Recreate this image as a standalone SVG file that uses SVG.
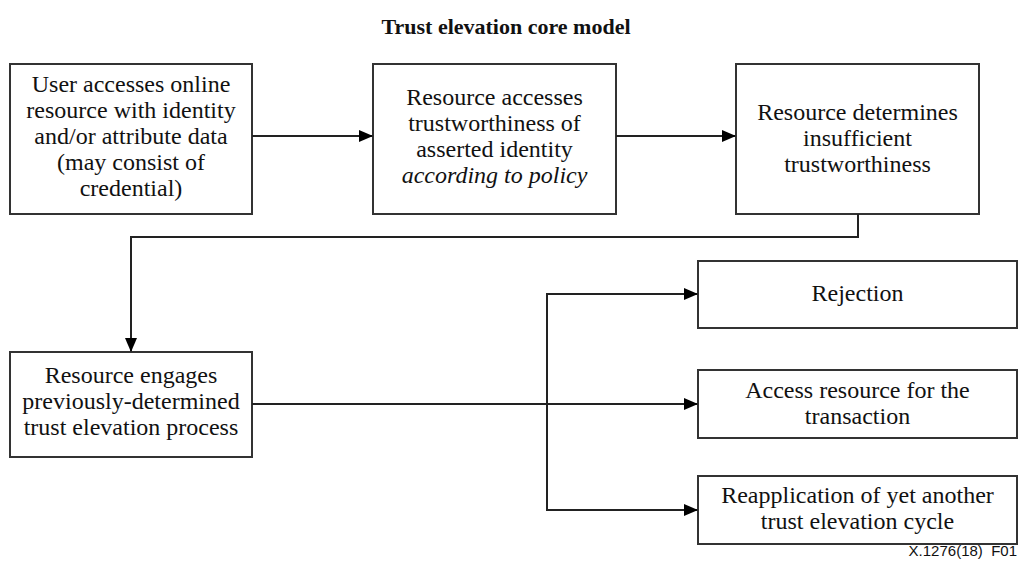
<svg xmlns="http://www.w3.org/2000/svg" width="1021" height="565" viewBox="0 0 1021 565">
<style>
.box{fill:#fff;stroke:#333;stroke-width:2}
.t{font-family:"Liberation Serif","Times New Roman",serif;font-size:24px;fill:#111;text-anchor:middle}
.c{fill:none;stroke:#222;stroke-width:2}
</style>
<defs>
<marker id="ah" markerWidth="14" markerHeight="12" refX="13" refY="6" orient="auto" markerUnits="userSpaceOnUse">
<path d="M0,0 L14,6 L0,12 Z" fill="#000"/>
</marker>
</defs>
<rect width="1021" height="565" fill="#fff"/>
<text x="506" y="34" style="font-family:'Liberation Serif','Times New Roman',serif;font-size:22px;font-weight:bold;text-anchor:middle;fill:#111">Trust elevation core model</text>
<g id="n1"><rect class="box" x="10" y="64" width="242" height="150"/>
<text class="t"><tspan x="131" y="92">User accesses online</tspan><tspan x="131" y="118">resource with identity</tspan><tspan x="131" y="144">and/or attribute data</tspan><tspan x="131" y="170">(may consist of</tspan><tspan x="131" y="196">credential)</tspan></text></g>
<g id="n2"><rect class="box" x="373" y="64" width="243" height="150"/>
<text class="t"><tspan x="494.5" y="105">Resource accesses</tspan><tspan x="494.5" y="131">trustworthiness of</tspan><tspan x="494.5" y="157">asserted identity</tspan><tspan x="494.5" y="183" font-style="italic">according to policy</tspan></text></g>
<g id="n3"><rect class="box" x="736" y="64" width="243" height="150"/>
<text class="t"><tspan x="857.5" y="120">Resource determines</tspan><tspan x="857.5" y="146">insufficient</tspan><tspan x="857.5" y="172">trustworthiness</tspan></text></g>
<g id="n4"><rect class="box" x="10" y="352" width="242" height="105"/>
<text class="t"><tspan x="131" y="383">Resource engages</tspan><tspan x="131" y="409">previously-determined</tspan><tspan x="131" y="435">trust elevation process</tspan></text></g>
<g id="n5"><rect class="box" x="698" y="261" width="319" height="67"/>
<text class="t" x="857.5" y="301">Rejection</text></g>
<g id="n6"><rect class="box" x="698" y="370" width="319" height="68"/>
<text class="t"><tspan x="857.5" y="398">Access resource for the</tspan><tspan x="857.5" y="424">transaction</tspan></text></g>
<g id="n7"><rect class="box" x="698" y="476" width="319" height="68"/>
<text class="t"><tspan x="857.5" y="503">Reapplication of yet another</tspan><tspan x="857.5" y="529">trust elevation cycle</tspan></text></g>
<g id="connectors">
<path class="c" d="M252,136 H372" marker-end="url(#ah)"/>
<path class="c" d="M616,136 H735" marker-end="url(#ah)"/>
<path class="c" d="M858,214 V237 H131 V351" marker-end="url(#ah)"/>
<path class="c" d="M252,404 H697" marker-end="url(#ah)"/>
<path class="c" d="M697,294 H547 V510 H697" marker-end="url(#ah)"/>
<path class="c" d="M547,294 H697" marker-end="url(#ah)"/>
</g>
<text x="1017" y="556" style="font-family:'Liberation Sans',Arial,sans-serif;font-size:15px;text-anchor:end;fill:#111" xml:space="preserve">X.1276(18)  F01</text>
</svg>
